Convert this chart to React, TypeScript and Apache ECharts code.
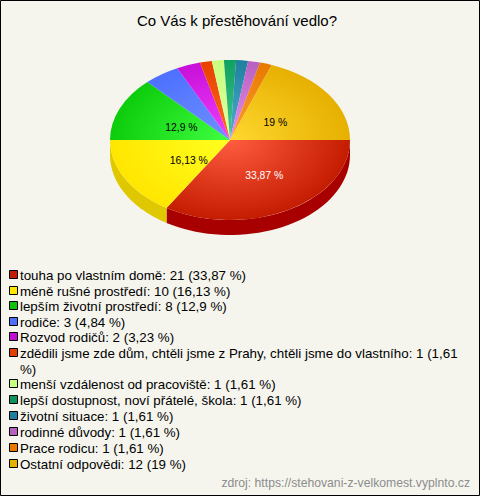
import React, { useEffect, useRef } from "react";
import * as echarts from "echarts";

const title = "Co Vás k přestěhování vedlo?";
const source = "zdroj: https://stehovani-z-velkomest.vyplnto.cz";
const categories = [
  "touha po vlastním domě",
  "méně rušné prostředí",
  "lepším životní prostředí",
  "rodiče",
  "Rozvod rodičů",
  "zdědili jsme zde dům, chtěli jsme z Prahy, chtěli jsme do vlastního",
  "menší vzdálenost od pracoviště",
  "lepší dostupnost, noví přátelé, škola",
  "životní situace",
  "rodinné důvody",
  "Prace rodicu",
  "Ostatní odpovědi",
];
const values = [21, 10, 8, 3, 2, 1, 1, 1, 1, 1, 1, 12];
const percents = ["33,87", "16,13", "12,9", "4,84", "3,23", "1,61", "1,61", "1,61", "1,61", "1,61", "1,61", "19"];
const edgeColors = ["#c41c00", "#ffe600", "#0ccc0c", "#4d70ff", "#c810d8", "#e84000", "#c8ff80", "#10a060", "#1f7f9f", "#b860c0", "#e87800", "#e6b000"];
const centerColors = ["#ff5c40", "#ffff20", "#40ff40", "#7090ff", "#f040ff", "#ff6a20", "#e0ffa0", "#40c890", "#50b0d0", "#e890f0", "#ffa030", "#ffd830"];
const sideColors = ["#a80000", "#e0c800"];
const swatchColors = ["#c41c00", "#ffe600", "#0cc40c", "#4d70ff", "#c010d0", "#e04000", "#c8ff80", "#109060", "#1f7f9f", "#b860c0", "#e87800", "#e6b000"];
const labelled = [0, 1, 2, 11];

const CX = 230, CY = 140, RX = 120, RY = 80, DEPTH = 15;
const labelNudge: Record<number, [number, number]> = { 0: [8, 4], 1: [6, 3], 2: [1, 2], 11: [1, 3] };
const rowY = [275, 291, 306, 322, 337, 353, 384, 400, 416, 432, 448, 464];
const total = values.reduce((a, b) => a + b, 0);

function App() {
  const ref = useRef<HTMLDivElement>(null);
  useEffect(() => {
    document.body.style.margin = "0";
    const chart = echarts.init(ref.current!, undefined, { renderer: "svg" });
    const font = "Liberation Sans";
    const legendGraphics: any[] = [];
    categories.forEach((c, i) => {
      const wrapped = i === 5;
      const text = `${c}: ${values[i]} (${percents[i]}${wrapped ? "\n" : " "}%)`;
      legendGraphics.push({
        type: "rect",
        shape: { x: 9.5, y: rowY[i] - 4.5, width: 8, height: 8 },
        style: { fill: swatchColors[i], stroke: "#000", lineWidth: 1 },
      });
      legendGraphics.push({
        type: "text",
        x: 20,
        y: rowY[i] - 8,
        style: { text, fill: "#000", font: `13.33px "${font}"`, lineHeight: 16, textVerticalAlign: "top" },
      });
    });
    const starts: number[] = [];
    values.reduce((acc, v, i) => { starts[i] = acc; return acc + v; }, 0);
    chart.setOption({
      animation: false,
      backgroundColor: "#f5f5ee",
      title: {
        text: title,
        left: 232,
        top: 8,
        textAlign: "center",
        textStyle: { fontFamily: font, fontSize: 15, fontWeight: "normal", color: "#000" },
      },
      graphic: [
        {
          type: "rect",
          shape: { x: 0.5, y: 0.5, width: 479, height: 495 },
          style: { fill: "none", stroke: "#000", lineWidth: 1 },
          z: 100,
        },
        ...legendGraphics,
        {
          type: "text",
          x: 470,
          y: 483,
          style: { text: source, fill: "#8c8c8c", font: `12.2px "${font}"`, textAlign: "right", textVerticalAlign: "middle" },
        },
      ],
      series: [
        {
          type: "custom",
          coordinateSystem: "none",
          data: values.map((v, i) => [i, v]),
          clip: false,
          renderItem: (params: any, api: any) => {
            const i = api.value(0);
            const a0 = (starts[i] / total) * Math.PI * 2;
            const a1 = ((starts[i] + api.value(1)) / total) * Math.PI * 2;
            const children: any[] = [];
            if (a0 < Math.PI) {
              const end = Math.min(a1, Math.PI);
              const pts: number[][] = [];
              const n = 40;
              for (let k = 0; k <= n; k++) {
                const a = a0 + ((end - a0) * k) / n;
                pts.push([CX + RX * Math.cos(a), CY + RY * Math.sin(a)]);
              }
              for (let k = n; k >= 0; k--) {
                const a = a0 + ((end - a0) * k) / n;
                pts.push([CX + RX * Math.cos(a), CY + RY * Math.sin(a) + DEPTH]);
              }
              children.push({ type: "polygon", shape: { points: pts }, style: { fill: sideColors[i] ?? edgeColors[i] } });
            }
            children.push({
              type: "sector",
              x: CX,
              y: CY,
              scaleY: RY / RX,
              shape: { cx: 0, cy: 0, r: RX, r0: 0, startAngle: a0, endAngle: a1, clockwise: true },
              style: {
                fill: {
                  type: "radial",
                  x: 0,
                  y: 0,
                  r: RX,
                  global: true,
                  colorStops: [
                    { offset: 0, color: centerColors[i] },
                    { offset: 1, color: edgeColors[i] },
                  ],
                },
              },
            });
            if (labelled.includes(i)) {
              const m = (a0 + a1) / 2;
              const nudge = labelNudge[i];
              children.push({
                type: "text",
                z2: 10,
                x: CX + 0.45 * RX * Math.cos(m) + nudge[0],
                y: CY + 0.45 * RY * Math.sin(m) + nudge[1],
                style: {
                  text: `${percents[i]} %`,
                  fill: i === 0 ? "#fff" : "#000",
                  font: `10.4px "${font}"`,
                  textAlign: "center",
                  textVerticalAlign: "middle",
                },
              });
            }
            return { type: "group", children };
          },
        },
      ],
    });
    return () => chart.dispose();
  }, []);
  return <div ref={ref} style={{ width: 480, height: 496 }} />;
}

export default App;
